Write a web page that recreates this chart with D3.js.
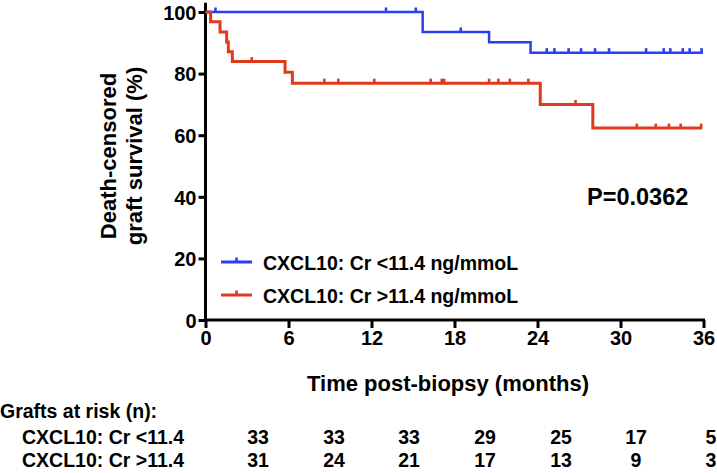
<!DOCTYPE html>
<html>
<head>
<meta charset="utf-8">
<script src="https://cdn.jsdelivr.net/npm/d3@7"></script>
<style>
  html,body{margin:0;padding:0;background:#fff;}
  svg{display:block;}
  text{font-family:"Liberation Sans",Arial,Helvetica,sans-serif;font-weight:bold;fill:#000;}
</style>
</head>
<body>
<svg id="chart" width="717" height="473"></svg>
<script>
// ---- data ----
const seriesNames = ["CXCL10: Cr <11.4 ng/mmoL", "CXCL10: Cr >11.4 ng/mmoL"];
const tableNames = ["CXCL10: Cr <11.4", "CXCL10: Cr >11.4"];
// Kaplan-Meier steps: event times (months) and survival (%) after each event
const lowEventTimes = [15.7, 20.5, 23.5];
const lowSurvival   = [100, 93.5, 90.2, 86.8];
const lowCensor     = [0.72, 13.05, 15.2, 18.45, 24.67, 25.22, 26.25, 27.15, 28.16, 29.17, 31.85, 33.12, 33.6, 34.5, 35.0, 35.86];
const lowEnd = 35.95;
const highEventTimes = [0.37, 1.05, 1.53, 1.65, 1.94, 5.75, 6.28, 24.2, 28.0];
const highSurvival   = [100, 96.8, 93.5, 90.3, 87.1, 83.9, 80.4, 76.9, 70.0, 62.3];
const highCensor     = [3.34, 8.59, 9.6, 12.2, 16.28, 17.08, 17.25, 20.5, 21.17, 22.0, 23.34, 26.75, 31.18, 32.55, 33.5, 34.35, 35.83];
const highEnd = 35.9;
const xTicks = [0, 6, 12, 18, 24, 30, 36];
const yTicks = [0, 20, 40, 60, 80, 100];
const riskLow  = [33, 33, 33, 29, 25, 17, 5];
const riskHigh = [31, 24, 21, 17, 13, 9, 3];
const pValueText = "P=0.0362";
const colors = ["#2b3ff2", "#e03a1c"];

// ---- chart ----
const svg = d3.select("#chart");
const x = d3.scaleLinear().domain([0, 36]).range([205.5, 703.5]);
const y = d3.scaleLinear().domain([0, 100]).range([320, 12]);

function steps(times, surv, end) {
  const pts = [[0, surv[0]]];
  times.forEach((t, i) => pts.push([t, surv[i + 1]]));
  pts.push([end, surv[surv.length - 1]]);
  return pts;
}
function survAt(times, surv, t) {
  let s = surv[0];
  times.forEach((et, i) => { if (t >= et) s = surv[i + 1]; });
  return s;
}

const line = d3.line().x(d => x(d[0])).y(d => y(d[1])).curve(d3.curveStepAfter);

const series = [
  {times: lowEventTimes, surv: lowSurvival, cens: lowCensor, end: lowEnd, color: colors[0], w: 2.5},
  {times: highEventTimes, surv: highSurvival, cens: highCensor, end: highEnd, color: colors[1], w: 3}
];

// axes
const yAxis = d3.axisLeft(y).tickValues(yTicks).tickSize(7).tickSizeOuter(0).tickPadding(2);
const gy = svg.append("g").attr("transform", "translate(205.5,0)").call(yAxis);
gy.select(".domain").remove();
gy.selectAll(".tick line").attr("stroke", "#000").attr("stroke-width", 3);
gy.selectAll(".tick text").style("font-size", "20px").attr("dy", "0.36em");
svg.append("line").attr("x1", 205.5).attr("x2", 205.5).attr("y1", y(0) + 1.5).attr("y2", y(103))
  .attr("stroke", "#000").attr("stroke-width", 3);

const xAxis = d3.axisBottom(x).tickValues(xTicks).tickSize(8).tickSizeOuter(0).tickPadding(3);
const gx = svg.append("g").attr("transform", "translate(0,320)").call(xAxis);
gx.select(".domain").remove();
gx.selectAll(".tick line").attr("stroke", "#000").attr("stroke-width", 3);
gx.selectAll(".tick text").style("font-size", "20px");
svg.append("line").attr("x1", x(0) - 1.5).attr("x2", x(36) + 1.5).attr("y1", 320).attr("y2", 320)
  .attr("stroke", "#000").attr("stroke-width", 3);

// curves
series.forEach(s => {
  svg.append("path").attr("d", line(steps(s.times, s.surv, s.end)))
    .attr("fill", "none").attr("stroke", s.color).attr("stroke-width", s.w);
  svg.append("g").selectAll("line").data(s.cens).join("line")
    .attr("x1", d => x(d)).attr("x2", d => x(d))
    .attr("y1", d => y(survAt(s.times, s.surv, d)))
    .attr("y2", d => y(survAt(s.times, s.surv, d)) - 4.5)
    .attr("stroke", s.color).attr("stroke-width", 2.6);
});

// legend
const legY = [262, 295];
seriesNames.forEach((n, i) => {
  const g = svg.append("g");
  g.append("line").attr("x1", 221).attr("x2", 252).attr("y1", legY[i]).attr("y2", legY[i])
    .attr("stroke", colors[i]).attr("stroke-width", 3);
  g.append("line").attr("x1", 236.5).attr("x2", 236.5).attr("y1", legY[i]).attr("y2", legY[i] - 4.5)
    .attr("stroke", colors[i]).attr("stroke-width", 2.6);
  g.append("text").attr("x", 263).attr("y", legY[i] + 1).attr("dominant-baseline", "central")
    .style("font-size", "19.5px").text(n);
});

// p value
svg.append("text").attr("x", 587).attr("y", 205).style("font-size", "23.5px").text(pValueText);

// axis titles
const yt = svg.append("text").attr("transform", "translate(123,156) rotate(-90)")
  .attr("text-anchor", "middle").style("font-size", "22px");
yt.append("tspan").attr("x", 0).attr("dy", "-0.3em").text("Death-censored");
yt.append("tspan").attr("x", 0).attr("dy", "1.15em").text("graft survival (%)");
svg.append("text").attr("x", 448).attr("y", 383).attr("text-anchor", "middle")
  .attr("dominant-baseline", "central").style("font-size", "22px").text("Time post-biopsy (months)");

// risk table
svg.append("text").attr("x", 0).attr("y", 411).attr("dominant-baseline", "central")
  .style("font-size", "19.5px").text("Grafts at risk (n):");
const colX = [258, 334, 409, 485, 561, 636, 711];
[riskLow, riskHigh].forEach((row, r) => {
  const ry = 437 + r * 23;
  svg.append("text").attr("x", 22).attr("y", ry).attr("dominant-baseline", "central")
    .style("font-size", "19.5px").text(tableNames[r]);
  svg.append("g").selectAll("text").data(row).join("text")
    .attr("x", (d, i) => colX[i]).attr("y", ry).attr("text-anchor", "middle").attr("dominant-baseline", "central")
    .style("font-size", "19.5px").text(d => d);
});
</script>
</body>
</html>
